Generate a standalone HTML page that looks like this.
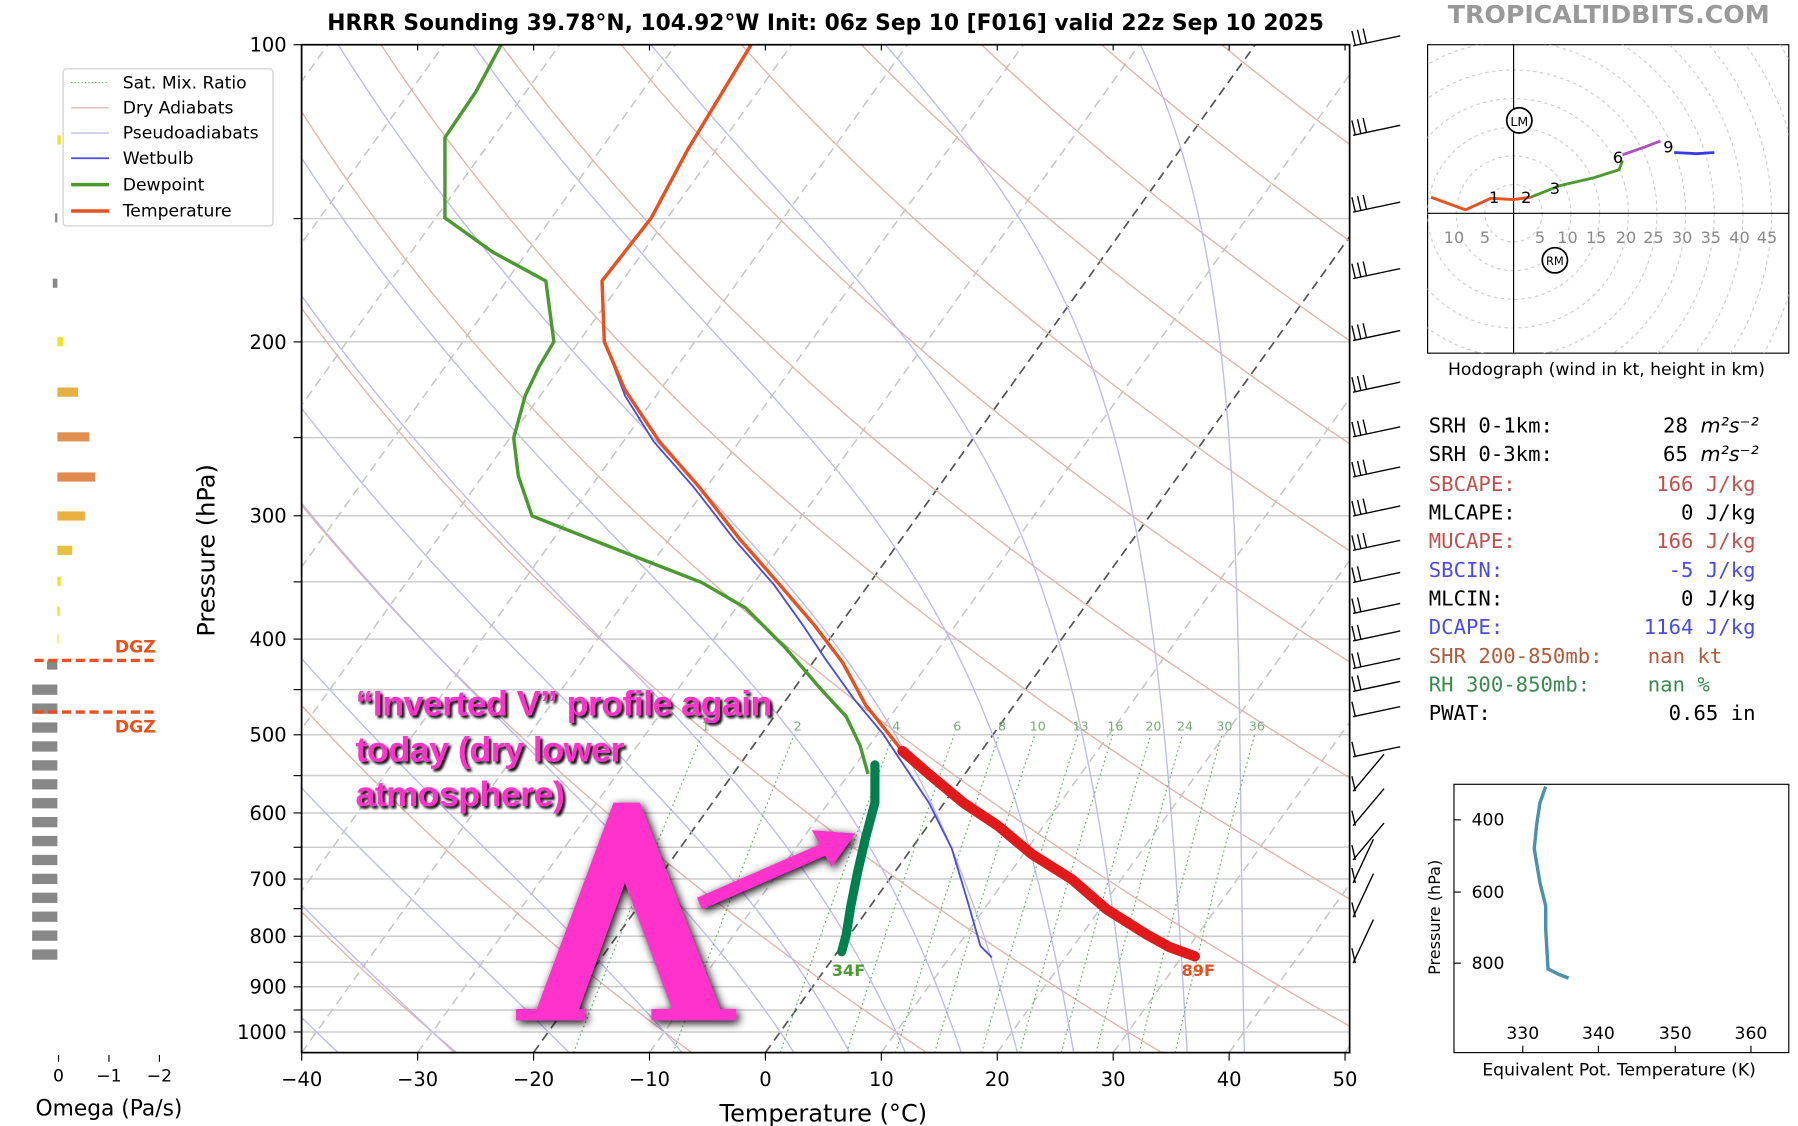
<!DOCTYPE html>
<html><head><meta charset="utf-8"><style>
html,body{margin:0;padding:0;background:#fff;}
svg{display:block;font-family:"DejaVu Sans","Liberation Sans",sans-serif;}
.m{font-family:"DejaVu Sans Mono","Liberation Mono",monospace;font-size:18px;}
</style></head><body>
<svg id="s" width="1798" height="1126" viewBox="0 0 1568 982" xmlns="http://www.w3.org/2000/svg">
<defs>
<clipPath id="pc"><rect x="263" y="39" width="914" height="879"/></clipPath>
<clipPath id="hc"><rect x="1245" y="39" width="315" height="269"/></clipPath>
<filter id="sh" x="-20%" y="-20%" width="140%" height="140%"><feGaussianBlur in="SourceAlpha" stdDeviation="4"/><feOffset dx="2" dy="2"/><feMerge><feMergeNode/><feMergeNode in="SourceGraphic"/></feMerge></filter>
<filter id="sh2"><feGaussianBlur in="SourceAlpha" stdDeviation="1.2"/><feOffset dx="2" dy="2"/><feMerge><feMergeNode/><feMergeNode in="SourceGraphic"/></feMerge></filter>
</defs>
<rect width="1568" height="982" fill="#fff"/>
<g id="grid" clip-path="url(#pc)"></g>
<g id="prof" clip-path="url(#pc)">
<polyline fill="none" stroke="#4a4ae8" stroke-width="1.6" points="528,300 545,345 570,385 605,425 640,470 675,510 700,545 720,575 745,610 770,640 790,670 810,700 830,740 845,790 855,825 865,835"/>
<polyline fill="none" stroke="#4a9a30" stroke-width="3" points="437,39 415,80 388,120 388,190 430,220 476,245 483,298 470,320 458,345 448,382 452,415 464,450 540,480 612,508 650,530 685,565 715,600 738,625 750,650 757,675"/>
<polyline fill="none" stroke="#e8501e" stroke-width="3" points="655,39 600,130 568,190 525,245 527,298 545,340 575,385 610,425 645,470 680,510 710,545 735,578 755,615 775,640 787,655"/>
</g>
<polyline fill="none" stroke="#e01a1a" stroke-width="9" stroke-linecap="round" stroke-linejoin="round" points="787,655 810,675 840,700 870,720 900,745 935,767 965,793 1000,815 1020,826 1042,834"/>
<polyline fill="none" stroke="#008050" stroke-width="8" stroke-linecap="round" stroke-linejoin="round" points="763,667 763,700 755,730 748,760 742,790 738,815 734,830"/>
<text x="740" y="851" fill="#4a9a30" font-size="14" font-weight="bold" text-anchor="middle">34F</text>
<text x="1045" y="851" fill="#e8501e" font-size="14" font-weight="bold" text-anchor="middle">89F</text>
<rect x="263" y="39" width="914" height="879" fill="none" stroke="#000" stroke-width="1.5"/>
<g id="ticks"></g>
<text x="720" y="26" font-size="19" font-weight="bold" text-anchor="middle">HRRR Sounding 39.78°N, 104.92°W Init: 06z Sep 10 [F016] valid 22z Sep 10 2025</text>
<text x="1403" y="20" font-size="22" font-weight="bold" fill="#999" text-anchor="middle">TROPICALTIDBITS.COM</text>
<text transform="translate(187,480) rotate(-90)" font-size="21" text-anchor="middle">Pressure (hPa)</text>
<text x="718" y="978" font-size="21" text-anchor="middle">Temperature (°C)</text>
<rect x="55" y="60" width="183" height="137" fill="#fff" stroke="#ccc" rx="3"/>
<g font-size="15">
<line x1="62" y1="72" x2="95" y2="72" stroke="#5a5" stroke-dasharray="1,2"/><text x="107" y="77">Sat. Mix. Ratio</text>
<line x1="62" y1="94" x2="95" y2="94" stroke="#d9a9a0"/><text x="107" y="99">Dry Adiabats</text>
<line x1="62" y1="116" x2="95" y2="116" stroke="#b4b4e6"/><text x="107" y="121">Pseudoadiabats</text>
<line x1="62" y1="138" x2="95" y2="138" stroke="#4a4ae8" stroke-width="1.5"/><text x="107" y="143">Wetbulb</text>
<line x1="62" y1="161" x2="95" y2="161" stroke="#4a9a30" stroke-width="3"/><text x="107" y="166">Dewpoint</text>
<line x1="62" y1="184" x2="95" y2="184" stroke="#e8501e" stroke-width="3"/><text x="107" y="189">Temperature</text>
</g>
<g id="om"></g>
<line x1="30" y1="576" x2="137" y2="576" stroke="#e8501e" stroke-width="3" stroke-dasharray="8,4"/>
<line x1="30" y1="621" x2="137" y2="621" stroke="#e8501e" stroke-width="3" stroke-dasharray="8,4"/>
<text x="118" y="569" fill="#e8501e" font-size="15" font-weight="bold" text-anchor="middle">DGZ</text>
<text x="118" y="639" fill="#e8501e" font-size="15" font-weight="bold" text-anchor="middle">DGZ</text>
<g font-size="15" text-anchor="middle"><text x="51" y="943">0</text><text x="95" y="943">−1</text><text x="139" y="943">−2</text></g>
<line x1="51" y1="920" x2="51" y2="926" stroke="#000"/><line x1="95" y1="920" x2="95" y2="926" stroke="#000"/><line x1="139" y1="920" x2="139" y2="926" stroke="#000"/>
<text x="95" y="973" font-size="19" text-anchor="middle">Omega (Pa/s)</text>
<g id="barbs" stroke="#000" stroke-width="1.2" fill="none"></g>
<rect x="1245" y="39" width="315" height="269" fill="#fff" stroke="#000"/>
<g id="hod"></g>
<text x="1401" y="327" font-size="15" text-anchor="middle">Hodograph (wind in kt, height in km)</text>
<g class="m">
<text x="1246" y="377">SRH 0-1km:</text><text x="1472" y="377" text-anchor="end">28</text><text x="1483" y="377" font-style="italic" font-family="DejaVu Sans">m²s⁻²</text>
<text x="1246" y="402">SRH 0-3km:</text><text x="1472" y="402" text-anchor="end">65</text><text x="1483" y="402" font-style="italic" font-family="DejaVu Sans">m²s⁻²</text>
<text x="1246" y="428" fill="#c0504d">SBCAPE:</text><text x="1531" y="428" text-anchor="end" fill="#c0504d">166 J/kg</text>
<text x="1246" y="453">MLCAPE:</text><text x="1531" y="453" text-anchor="end">0 J/kg</text>
<text x="1246" y="478" fill="#c0504d">MUCAPE:</text><text x="1531" y="478" text-anchor="end" fill="#c0504d">166 J/kg</text>
<text x="1246" y="503" fill="#4a4ae8">SBCIN:</text><text x="1531" y="503" text-anchor="end" fill="#4a4ae8">-5 J/kg</text>
<text x="1246" y="528">MLCIN:</text><text x="1531" y="528" text-anchor="end">0 J/kg</text>
<text x="1246" y="553" fill="#4a4ae8">DCAPE:</text><text x="1531" y="553" text-anchor="end" fill="#4a4ae8">1164 J/kg</text>
<text x="1246" y="578" fill="#b05a3a">SHR 200-850mb:</text><text x="1437" y="578" fill="#b05a3a">nan kt</text>
<text x="1246" y="603" fill="#3a8a50">RH 300-850mb:</text><text x="1437" y="603" fill="#3a8a50">nan %</text>
<text x="1246" y="628">PWAT:</text><text x="1531" y="628" text-anchor="end">0.65 in</text>
</g>
<rect x="1268" y="684" width="292" height="234" fill="#fff" stroke="#000"/>
<g font-size="15" text-anchor="end"><text x="1312" y="720">400</text><text x="1312" y="783">600</text><text x="1312" y="845">800</text></g>
<g stroke="#000"><line x1="1268" y1="715" x2="1274" y2="715"/><line x1="1268" y1="778" x2="1274" y2="778"/><line x1="1268" y1="840" x2="1274" y2="840"/>
<line x1="1328" y1="918" x2="1328" y2="912"/><line x1="1394" y1="918" x2="1394" y2="912"/><line x1="1461" y1="918" x2="1461" y2="912"/><line x1="1527" y1="918" x2="1527" y2="912"/></g>
<g font-size="15" text-anchor="middle"><text x="1328" y="906">330</text><text x="1394" y="906">340</text><text x="1461" y="906">350</text><text x="1527" y="906">360</text></g>
<text transform="translate(1256,800) rotate(-90)" font-size="14" text-anchor="middle">Pressure (hPa)</text>
<text x="1412" y="938" font-size="15" text-anchor="middle">Equivalent Pot. Temperature (K)</text>
<polyline fill="none" stroke="#4a90b0" stroke-width="3" points="1348,686 1343,700 1340,720 1338,740 1343,770 1348,790 1348,810 1350,845 1360,850 1368,853"/>
<g font-family="'Liberation Sans',sans-serif" font-size="31" font-weight="bold" fill="#ff33cc" filter="url(#sh2)" letter-spacing="-0.6">
<text x="310" y="624" textLength="363" lengthAdjust="spacingAndGlyphs">“Inverted V” profile again</text>
<text x="310" y="664" textLength="234" lengthAdjust="spacingAndGlyphs">today (dry lower</text>
<text x="310" y="703" textLength="182" lengthAdjust="spacingAndGlyphs">atmosphere)</text>
</g>
<polygon filter="url(#sh)" fill="#ff33cc" points="535,700 558,700 628,880 642,880 642,890 568,890 568,880 586,880 545,770 505,880 510,880 510,890 450,890 450,880 468,880"/>
<g filter="url(#sh)"><line x1="610" y1="788" x2="725" y2="738" stroke="#ff33cc" stroke-width="11"/>
<polygon fill="#ff33cc" points="708,724 746,727 725,756"/></g>
</svg>
<script>
var NS='http://www.w3.org/2000/svg';
function yp(p){return 39+861*Math.log10(p/100);}
function xt(T,y){return 667.5+10.11*T+0.716*(918-y);}
function el(par,tag,a){var e=document.createElementNS(NS,tag);for(var k in a)e.setAttribute(k,a[k]);par.appendChild(e);return e;}
var g=document.getElementById('grid');
var ps=[];for(var p=1050;p>=100;p-=5)ps.push(p);
for(var p=100;p<=1050;p+=50){var y=yp(p);el(g,'line',{x1:263,x2:1177,y1:y,y2:y,stroke:'#ccc','stroke-width':1.3});}
for(var T=-140;T<=60;T+=10){var c=(T==0||T==-20);el(g,'line',{x1:xt(T,918),y1:918,x2:xt(T,39),y2:39,stroke:c?'#555':'#c4c4c4','stroke-width':c?1.5:1.3,'stroke-dasharray':'8,5'});}
for(var t0=-30;t0<=220;t0+=20){var pts=[];ps.forEach(function(p){var T=(t0+273.15)*Math.pow(p/1000,0.2857)-273.15;var y=yp(p);pts.push(xt(T,y).toFixed(1)+','+y.toFixed(1));});el(g,'polyline',{points:pts.join(' '),fill:'none',stroke:'#ddb5ad','stroke-width':1.2});}
function es(T){return 6.112*Math.exp(17.67*T/(T+243.5));}
function dTdp(T,p){var Tk=T+273.15,rs=0.622*es(T)/(p-es(T)),Lv=2.5e6,Rd=287,Cp=1005;return (Rd*Tk+Lv*rs)/(p*(Cp+Lv*Lv*rs*0.622/(Rd*Tk*Tk)));}
var m0=[-40,-30,-20,-10,0,5,10,15,20,25,30,35,40];
m0.forEach(function(t0){var pts=[];var Tb=t0;for(var q=1000;q<1050;q+=1)Tb+=dTdp(Tb,q);var T=Tb;
 for(var p=1050;p>=100;p-=1){if(p%5==0){var y=yp(p);pts.push(xt(T,y).toFixed(1)+','+y.toFixed(1));}T-=dTdp(T,p);}
 el(g,'polyline',{points:pts.join(' '),fill:'none',stroke:'#bcbce8','stroke-width':1.2});});
[1,2,4,6,8,10,13,16,20,24,30,36].forEach(function(w){var pts=[];for(var p=1050;p>=500;p-=10){var e=w*p/(622+w),l=Math.log(e/6.112),T=243.5*l/(17.67-l),y=yp(p);pts.push(xt(T,y).toFixed(1)+','+y.toFixed(1));}
 el(g,'polyline',{points:pts.join(' '),fill:'none',stroke:'#6a6','stroke-width':1,'stroke-dasharray':'1.5,2.5'});
 var e=w*490/(622+w),l=Math.log(e/6.112),T=243.5*l/(17.67-l),y=yp(490);var tx=el(g,'text',{x:xt(T,y),y:y+4,'font-size':11,fill:'#7a7','text-anchor':'middle'});tx.textContent=w;});
var tk=document.getElementById('ticks');
for(var T=-40;T<=50;T+=10){var x=667.5+10.11*T;el(tk,'line',{x1:x,x2:x,y1:918,y2:925,stroke:'#000'});el(tk,'line',{x1:x,x2:x,y1:39,y2:44,stroke:'#000'});var t=el(tk,'text',{x:x,y:947,'font-size':17,'text-anchor':'middle'});t.textContent=(T<0?'−':'')+Math.abs(T);}
for(var p=100;p<=1000;p+=50){var y=yp(p);el(tk,'line',{x1:256,x2:263,y1:y,y2:y,stroke:'#000'});if(p%100==0){var t=el(tk,'text',{x:250,y:y+6,'font-size':17,'text-anchor':'end'});t.textContent=p;}}
var om=document.getElementById('om');
[[122,3,'#f0e030'],[190,-2,'#888'],[247,-4,'#888'],[298,5,'#f0e030'],[342,18,'#e8b040'],[381,28,'#e09050'],[416,33,'#e08a50'],[450,24,'#e8b040'],[480,13,'#e8c040'],[507,3,'#f0e030'],[533,2,'#f0e030'],[557,1,'#f0e030']].forEach(function(b){var w=b[1];el(om,'rect',{x:w>0?50:50+w,y:b[0]-4,width:Math.abs(w),height:8,fill:b[2]});});
el(om,'rect',{x:41,y:576,width:9,height:8,fill:'#888'});
for(var y=601;y<=834;y+=16.5){el(om,'rect',{x:28,y:y-4,width:22,height:9,fill:'#888'});}
var bb=document.getElementById('barbs');
var by=[40,118,185,243,297,342,381,416,450,480,508,535,559,583,603,625,660,690,720,750,770,800,840];
by.forEach(function(y,i){var ang=i<17?-12:(i<20?-50:-65);var a=ang*Math.PI/180,L=42;var x0=1180,x1=x0+L*Math.cos(a),y1=y+L*Math.sin(a);
 el(bb,'line',{x1:x0,y1:y,x2:x1,y2:y1});var n=i<10?3:(i<15?2:1);
 for(var k=0;k<n;k++){var bx=x0+k*5*Math.cos(a)+2,byy=y+k*5*Math.sin(a);el(bb,'line',{x1:bx,y1:byy,x2:bx-3,y2:byy-13});}
});
var h=document.getElementById('hod');
for(var r=25;r<=300;r+=25)el(h,'circle',{cx:1320,cy:186,r:r,fill:'none',stroke:'#ccc','stroke-dasharray':'3,3','clip-path':'url(#hc)'});
el(h,'line',{x1:1320,x2:1320,y1:39,y2:308,stroke:'#000'});el(h,'line',{x1:1245,x2:1560,y1:186,y2:186,stroke:'#000'});
[[1268,'10'],[1295,'5'],[1343,'5'],[1367,'10'],[1392,'15'],[1418,'20'],[1442,'25'],[1467,'30'],[1492,'35'],[1517,'40'],[1541,'45']].forEach(function(l){var t=el(h,'text',{x:l[0],y:212,'font-size':14,fill:'#888','text-anchor':'middle'});t.textContent=l[1];});
el(h,'polyline',{points:'1248,172 1278,183 1300,173 1320,174 1335,172',fill:'none',stroke:'#e8501e','stroke-width':2.5});
el(h,'polyline',{points:'1335,172 1360,162 1390,155 1412,148 1415,140',fill:'none',stroke:'#4a9a30','stroke-width':2.5});
el(h,'polyline',{points:'1415,135 1435,128 1448,123',fill:'none',stroke:'#b050c0','stroke-width':2.5});
el(h,'polyline',{points:'1460,133 1480,134 1495,133',fill:'none',stroke:'#3a3ae0','stroke-width':2.5});
[[1303,177,'1'],[1331,177,'2'],[1356,169,'3'],[1411,142,'6'],[1455,133,'9']].forEach(function(l){var t=el(h,'text',{x:l[0],y:l[1],'font-size':14,'text-anchor':'middle'});t.textContent=l[2];});
el(h,'circle',{cx:1325,cy:105,r:11,fill:'#fff',stroke:'#000','stroke-width':1.5});var t=el(h,'text',{x:1325,y:110,'font-size':11,'text-anchor':'middle'});t.textContent='LM';
el(h,'circle',{cx:1356,cy:227,r:11,fill:'#fff',stroke:'#000','stroke-width':1.5});t=el(h,'text',{x:1356,y:231,'font-size':10,'text-anchor':'middle'});t.textContent='RM';
</script>
</body></html>
